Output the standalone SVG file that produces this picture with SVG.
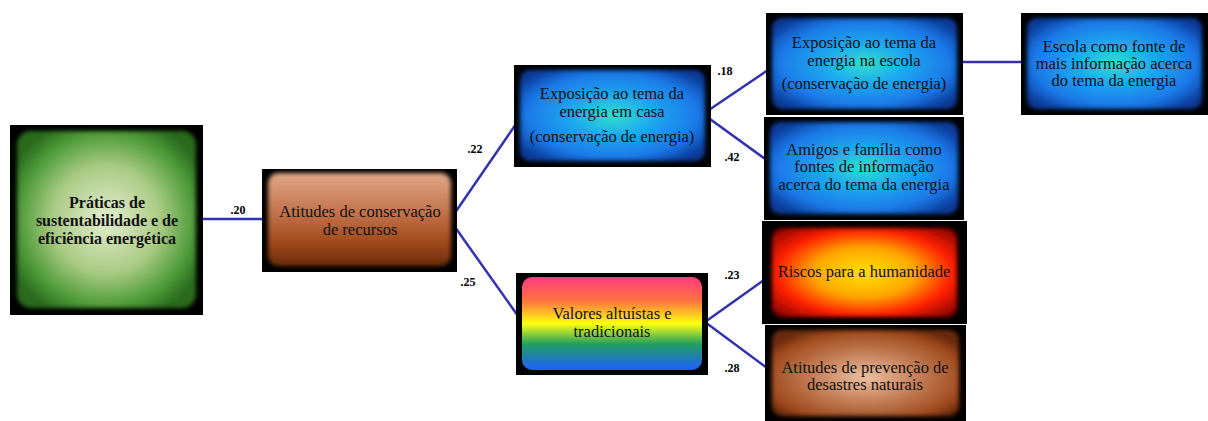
<svg xmlns="http://www.w3.org/2000/svg" width="1208" height="421" viewBox="0 0 1208 421">
<style>
.frame{fill:#000}
.t{font-family:"Liberation Serif","Times New Roman",serif;font-size:16.5px;fill:#111;text-anchor:middle}
.tb{font-family:"Liberation Serif","Times New Roman",serif;font-size:16px;font-weight:bold;fill:#111;text-anchor:middle}
.lbl{font-family:"Liberation Serif","Times New Roman",serif;font-size:12px;font-weight:bold;fill:#000;text-anchor:middle}
.conn{stroke:#3333b0;stroke-width:2.5;fill:none}
</style>
<defs>
<filter id="soft" x="-10%" y="-10%" width="120%" height="120%"><feGaussianBlur stdDeviation="2.2"/></filter>
<radialGradient id="gGreen" cx="50%" cy="50%" r="60%">
<stop offset="0" stop-color="#e4eed0"/><stop offset="0.5" stop-color="#aacb84"/><stop offset="0.82" stop-color="#4c9a38"/><stop offset="1" stop-color="#2a6a1e"/>
</radialGradient>
<linearGradient id="gBrown" x1="0" y1="0" x2="0" y2="1">
<stop offset="0" stop-color="#e0a888"/><stop offset="0.45" stop-color="#c07048"/><stop offset="0.75" stop-color="#a04a1c"/><stop offset="1" stop-color="#6a2c0c"/>
</linearGradient>
<radialGradient id="gBlue" cx="50%" cy="50%" r="62%">
<stop offset="0" stop-color="#30e0c8"/><stop offset="0.35" stop-color="#1eaaf0"/><stop offset="0.75" stop-color="#1a78e8"/><stop offset="1" stop-color="#0a3a98"/>
</radialGradient>
<linearGradient id="gRainbow" x1="0" y1="0" x2="0" y2="1">
<stop offset="0" stop-color="#ff3c80"/><stop offset="0.25" stop-color="#ff7040"/><stop offset="0.5" stop-color="#ffff10"/><stop offset="0.72" stop-color="#20a060"/><stop offset="1" stop-color="#2060ff"/>
</linearGradient>
<radialGradient id="gFire" cx="50%" cy="50%" r="68%">
<stop offset="0" stop-color="#ffe000"/><stop offset="0.4" stop-color="#ffa800"/><stop offset="0.7" stop-color="#ff2000"/><stop offset="1" stop-color="#800000"/>
</radialGradient>
<radialGradient id="gBrown2" cx="50%" cy="55%" r="62%">
<stop offset="0" stop-color="#ecc0a0"/><stop offset="0.5" stop-color="#c07850"/><stop offset="0.85" stop-color="#a04a1e"/><stop offset="1" stop-color="#6a2c0c"/>
</radialGradient>
</defs>

<g id="connectors">
<line class="conn" x1="200" y1="219" x2="265" y2="219"/>
<polyline class="conn" points="516,124 450,220 518,316"/>
<polyline class="conn" points="768,70 703,114 768,161"/>
<line class="conn" x1="958" y1="62" x2="1024" y2="62"/>
<polyline class="conn" points="764,280 705,322 767,368"/>
<text class="lbl" x="238" y="214">.20</text>
<text class="lbl" x="475" y="153">.22</text>
<text class="lbl" x="468" y="286">.25</text>
<text class="lbl" x="725" y="75">.18</text>
<text class="lbl" x="732" y="161">.42</text>
<text class="lbl" x="732" y="279">.23</text>
<text class="lbl" x="732" y="372">.28</text>
</g>

<g id="n1">
<rect class="frame" x="10" y="125" width="193" height="190"/>
<rect x="17" y="131" width="179" height="177" rx="14" fill="url(#gGreen)" filter="url(#soft)"/>
<text class="tb" x="107" y="208">Práticas de</text>
<text class="tb" x="107" y="226">sustentabilidade e de</text>
<text class="tb" x="107" y="244">eficiência energética</text>
</g>

<g id="n2">
<rect class="frame" x="262" y="169" width="195" height="103"/>
<rect x="268" y="173" width="183" height="93" rx="10" fill="url(#gBrown)" filter="url(#soft)"/>
<text class="t" x="360" y="217">Atitudes de conservação</text>
<text class="t" x="360" y="235">de recursos</text>
</g>

<g id="n3">
<rect class="frame" x="514" y="65" width="197" height="102"/>
<rect x="520" y="70" width="185" height="91" rx="10" fill="url(#gBlue)" filter="url(#soft)"/>
<text class="t" x="612" y="99">Exposição ao tema da</text>
<text class="t" x="612" y="117">energia em casa</text>
<text class="t" x="612" y="142">(conservação de energia)</text>
</g>

<g id="n4">
<rect class="frame" x="766" y="13" width="197" height="102"/>
<rect x="772" y="18" width="185" height="91" rx="10" fill="url(#gBlue)" filter="url(#soft)"/>
<text class="t" x="864" y="48">Exposição ao tema da</text>
<text class="t" x="864" y="66">energia na escola</text>
<text class="t" x="864" y="89">(conservação de energia)</text>
</g>

<g id="n5">
<rect class="frame" x="764" y="117" width="200" height="103"/>
<rect x="770" y="122" width="188" height="92" rx="10" fill="url(#gBlue)" filter="url(#soft)"/>
<text class="t" x="864" y="155">Amigos e família como</text>
<text class="t" x="864" y="172">fontes de informação</text>
<text class="t" x="864" y="190">acerca do tema da energia</text>
</g>

<g id="n6">
<rect class="frame" x="1021" y="13" width="187" height="102"/>
<rect x="1027" y="18" width="175" height="91" rx="10" fill="url(#gBlue)" filter="url(#soft)"/>
<text class="t" x="1114" y="52">Escola como fonte de</text>
<text class="t" x="1114" y="69">mais informação acerca</text>
<text class="t" x="1114" y="86">do tema da energia</text>
</g>

<g id="n7">
<rect class="frame" x="516" y="273" width="192" height="102"/>
<rect x="522" y="277" width="180" height="93" rx="10" fill="url(#gRainbow)"/>
<text class="t" x="612" y="319">Valores altuístas e</text>
<text class="t" x="612" y="337">tradicionais</text>
</g>

<g id="n8">
<rect class="frame" x="762" y="221" width="205" height="103"/>
<rect x="772" y="228" width="185" height="89" rx="10" fill="url(#gFire)" filter="url(#soft)"/>
<text class="t" x="864" y="277">Riscos para a humanidade</text>
</g>

<g id="n9">
<rect class="frame" x="765" y="325" width="201" height="96"/>
<rect x="772" y="330" width="187" height="86" rx="10" fill="url(#gBrown2)" filter="url(#soft)"/>
<text class="t" x="865" y="373">Atitudes de prevenção de</text>
<text class="t" x="865" y="390">desastres naturais</text>
</g>
</svg>
